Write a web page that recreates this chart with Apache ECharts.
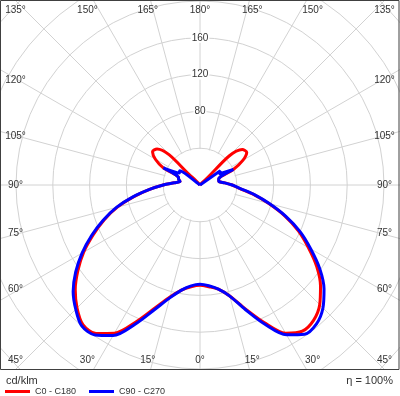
<!DOCTYPE html>
<html><head><meta charset="utf-8">
<script src="https://cdn.jsdelivr.net/npm/echarts@6/dist/echarts.min.js"></script>
<style>html,body{margin:0;padding:0;background:#fff}#c{width:400px;height:396px}</style>
</head><body><div id="c"></div>
<script>
// Luminous intensity (cd/klm) per gamma angle
const gammas = [0,5,10,15,20,25,30,35,40,45,50,55,60,65,70,75,80,85,90,95,100,105,110,115,120,125,130,135,140,145,150,155,160,165,170,175,180];
const c0   = [109,111,115,125,143,165,186,194,192,184,171,155,136,118,98,77,59,43,35,27,21,21,22,40,54,62,60,5,0,0,0,0,0,0,0,0,0];
const c180 = [109,111,116,126,142,164,186,197,198,189,177,162,146,128,111,93,73,55,40,28,22,24,25,44,56,63,61,12,2,0,0,0,0,0,0,0,0];
const c90  = [108,110,115,125,144,167,188,198,197,189,176,159,139,120,99,78,60,44,35,27,21,21,22,40,24,27,0,0,0,0,0,0,0,0,0,0,0];
const c270 = [108,110,116,127,144,167,189,199,200,191,180,165,148,130,112,94,74,55,40,28,22,24,25,44,26,27,1,0,0,0,0,0,0,0,0,0,0];
const radiusTickLabels = [80,120,160];
const angleTickLabels = [0,15,30,45,60,75,90,105,120,135,150,165,180];
const seriesNames = ['C0 - C180','C90 - C270'];
const innerBlank = 40; // radial grid lines start at this intensity circle

const FONT = "'Liberation Sans', Arial, sans-serif";
const CX = 200, CY = 185;

function planeData(left, right) {
  const d = [];
  for (let i = gammas.length - 1; i >= 0; i--) d.push([left[i], 180 + gammas[i]]);
  for (let i = 1; i < gammas.length; i++) d.push([right[i], 180 - gammas[i]]);
  return d;
}

const graphics = [
  {type:'rect', z:3, shape:{x:0,y:370,width:400,height:26}, style:{fill:'#fff'}},
  {type:'rect', z:5, shape:{x:0.5,y:0.5,width:398.5,height:369}, style:{fill:'none',stroke:'#404040',lineWidth:1}},
  {type:'text', z:5, style:{text:'cd/klm', x:6, y:381, align:'left', verticalAlign:'middle', font:'11px '+FONT, fill:'#333'}},
  {type:'text', z:5, style:{text:'\u03b7 = 100%', x:393, y:381, align:'right', verticalAlign:'middle', font:'11px '+FONT, fill:'#333'}}
];
angleTickLabels.forEach(g => {
  const sides = (g === 0 || g === 180) ? [1] : [-1, 1];
  sides.forEach(s => {
    let x, y;
    const rad = Math.PI / 180;
    if (g <= 45) { x = CX + s * Math.min(195 * Math.tan(g * rad), 184.5); y = 360; }
    else if (g >= 135) { x = CX + s * Math.min(195 * Math.tan((180 - g) * rad), 184.5); y = 10; }
    else { x = CX + s * 184.5; y = CY - 181 * Math.tan((g - 90) * rad); }
    graphics.push({type:'text', z:5, style:{text: g + '\u00b0', x, y, align:'center', verticalAlign:'middle', font:'10px '+FONT, fill:'#333'}});
  });
});

const chart = echarts.init(document.getElementById('c'), null, {renderer:'canvas'});
const option = {
  animation:false,
  backgroundColor:'#fff',
  polar:{center:[CX, CY], radius:[0, 294.4]},
  angleAxis:{type:'value', min:0, max:360, interval:15, startAngle:90, clockwise:true,
    axisLine:{show:false}, axisTick:{show:false}, axisLabel:{show:false},
    splitLine:{show:true, lineStyle:{color:'#d2d2d2', width:1}}},
  radiusAxis:{type:'value', min:0, max:320, interval:40, z:1,
    axisLine:{show:false}, axisTick:{show:false},
    splitLine:{show:true, lineStyle:{color:'#d2d2d2', width:1}},
    axisLabel:{margin:0, align:'center', verticalAlign:'middle', color:'#333', fontSize:10, fontFamily:FONT,
      backgroundColor:'#fff', padding:[0,1],
      formatter: v => radiusTickLabels.includes(v) ? String(v) : ''}},
  legend:{data:seriesNames, left:5, top:387, padding:0, icon:'rect', itemWidth:25, itemHeight:3, itemGap:13,
    textStyle:{fontSize:9, color:'#333', fontFamily:FONT}},
  series:[
    {name:seriesNames[0], type:'line', coordinateSystem:'polar', data:planeData(c180, c0), symbol:'none', clip:false,
      smooth:0.3, lineStyle:{color:'#ff0000', width:3}, itemStyle:{color:'#ff0000'}, z:2},
    {name:seriesNames[1], type:'line', coordinateSystem:'polar', data:planeData(c270, c90), symbol:'none', clip:false,
      smooth:0.3, lineStyle:{color:'#0000ff', width:3}, itemStyle:{color:'#0000ff'}, z:2}
  ],
  graphic:{elements:graphics}
};
chart.setOption(option);
// blank disc inside the innermost circle (radial grid lines begin at that circle)
const c = chart.convertToPixel({polarIndex:0}, [0, 0]);
const e = chart.convertToPixel({polarIndex:0}, [innerBlank, 90]);
const rIn = Math.hypot(e[0] - c[0], e[1] - c[1]) - 0.8;
graphics.push({type:'circle', z:1, shape:{cx:c[0], cy:c[1], r:rIn}, style:{fill:'#fff'}});
chart.setOption({graphic:{elements:graphics}}, {replaceMerge:['graphic']});
</script></body></html>
